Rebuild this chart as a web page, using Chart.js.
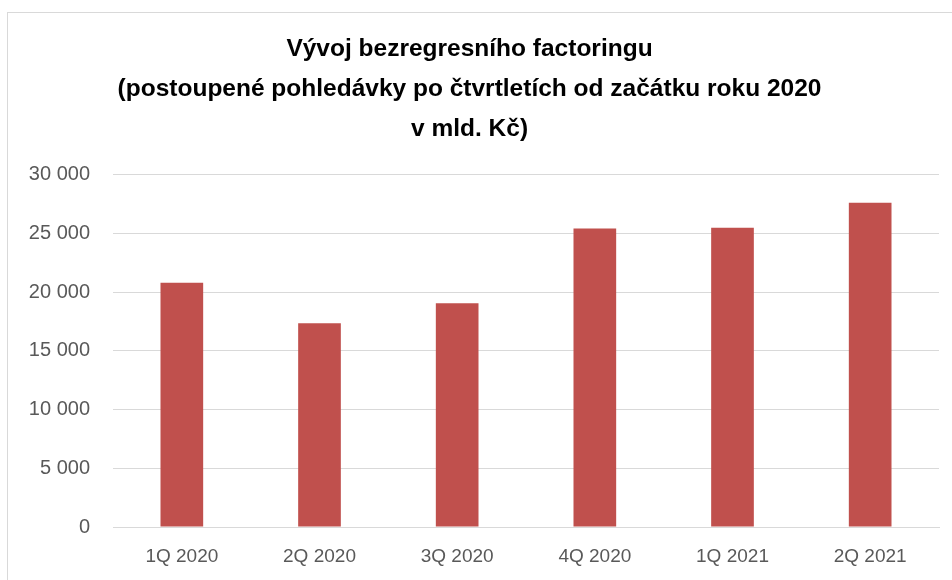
<!DOCTYPE html>
<html>
<head>
  <meta charset="utf-8">
  <title>Vývoj bezregresního factoringu</title>
  <script src="https://cdn.jsdelivr.net/npm/chart.js@4.4.2/dist/chart.umd.min.js"></script>
  <style>
    html, body { margin: 0; padding: 0; background: #fff; }
    #wrap { position: relative; width: 952px; height: 580px; overflow: hidden; }
    #frame { position: absolute; left: 7px; top: 12px; width: 1000px; height: 700px; border: 1px solid #d9d9d9; }
    canvas { position: absolute; left: 0; top: 0; }
  </style>
</head>
<body>
<div id="wrap">
  <div id="frame"></div>
  <canvas id="factoringChart" width="952" height="580"></canvas>
</div>
<script>
const quarters = ['1Q 2020', '2Q 2020', '3Q 2020', '4Q 2020', '1Q 2021', '2Q 2021'];
const receivables = [20800, 17350, 19050, 25420, 25480, 27630];
const titleLines = [
  'Vývoj bezregresního factoringu',
  '(postoupené pohledávky po čtvrtletích od začátku roku 2020',
  'v mld. Kč)'
];

// thousands separated by a space, like the Czech original
function fmt(v) {
  return String(v).replace(/\B(?=(\d{3})+(?!\d))/g, ' ');
}

const ctx = document.getElementById('factoringChart').getContext('2d');
new Chart(ctx, {
  type: 'bar',
  data: {
    labels: quarters,
    datasets: [{
      data: receivables,
      backgroundColor: '#c0504d',
      borderWidth: 0,
      barPercentage: 1,
      categoryPercentage: 0.31
    }]
  },
  options: {
    responsive: false,
    animation: false,
    layout: { padding: { left: 0, right: 13, bottom: 0 } },
    plugins: {
      legend: { display: false },
      tooltip: { enabled: false },
      title: {
        display: true,
        text: titleLines,
        color: '#000',
        font: { family: 'Liberation Sans', size: 24.5, weight: 'bold', lineHeight: 1.63 },
        padding: { top: 29, bottom: 26 }
      }
    },
    scales: {
      x: {
        afterFit: s => { s.height = 53; },
        grid: { display: false, drawTicks: false },
        border: { color: '#d9d9d9', width: 1 },
        ticks: { color: '#595959', font: { family: 'Liberation Sans', size: 19 }, padding: 18, maxRotation: 0 }
      },
      y: {
        min: 0,
        max: 30000,
        afterFit: s => { s.width = 113; },
        grid: { color: '#d9d9d9', drawTicks: false },
        border: { display: false },
        ticks: {
          stepSize: 5000,
          color: '#595959',
          font: { family: 'Liberation Sans', size: 20 },
          padding: 23,
          callback: v => fmt(v)
        }
      }
    }
  }
});
</script>
</body>
</html>
